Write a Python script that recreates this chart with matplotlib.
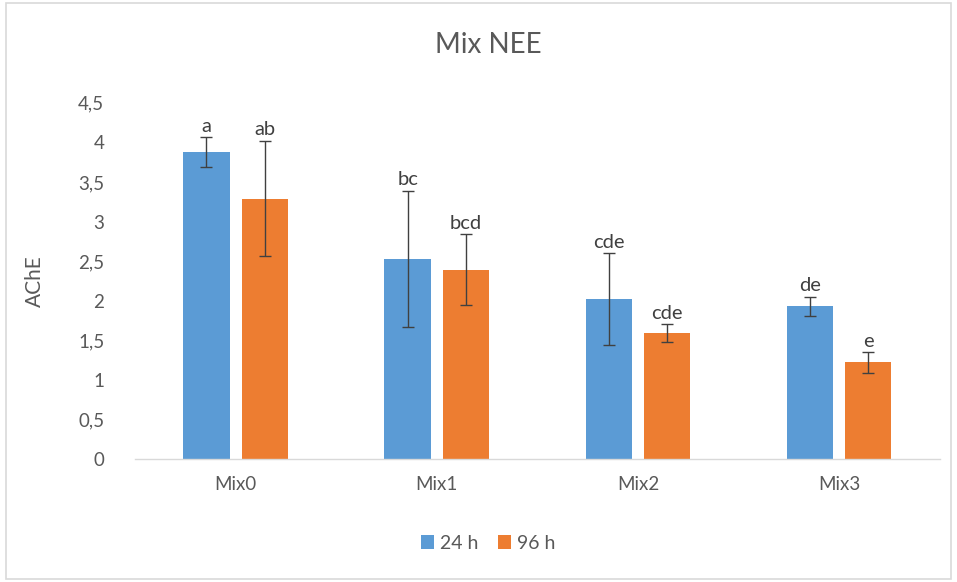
import matplotlib
matplotlib.use("Agg")
import matplotlib.pyplot as plt
from matplotlib.patches import Rectangle
import numpy as np

categories = ["Mix0", "Mix1", "Mix2", "Mix3"]
series_names = ["24 h", "96 h"]
vals_24 = [3.88, 2.53, 2.02, 1.93]
err_24 = [0.19, 0.86, 0.58, 0.12]
vals_96 = [3.29, 2.39, 1.59, 1.22]
err_96 = [0.73, 0.45, 0.11, 0.13]
letters_24 = ["a", "bc", "cde", "de"]
letters_96 = ["ab", "bcd", "cde", "e"]
yticks = [0, 0.5, 1, 1.5, 2, 2.5, 3, 3.5, 4, 4.5]
ytick_labels = ["0", "0,5", "1", "1,5", "2", "2,5", "3", "3,5", "4", "4,5"]

plt.rcParams['font.family'] = ['Lato', 'DejaVu Sans']
blue = "#5B9BD5"
orange = "#ED7D31"
txt = "#595959"

fig = plt.figure(figsize=(9.57, 5.82), dpi=100)
ax = fig.add_axes([0.141, 0.2113, 0.841, 0.612])

x = np.arange(len(categories))
off = 0.145
w = 0.23
ekw = dict(ecolor="#404040", elinewidth=1.0, capsize=4, capthick=1.0)
ax.bar(x - off, vals_24, w, color=blue, label=series_names[0], yerr=err_24, error_kw=ekw, zorder=2)
ax.bar(x + off, vals_96, w, color=orange, label=series_names[1], yerr=err_96, error_kw=ekw, zorder=2)

for i in range(len(categories)):
    ax.text(x[i] - off, vals_24[i] + err_24[i] + 0.03, letters_24[i], ha="center", va="bottom",
            fontsize=14.5, color="#404040", zorder=3)
    ax.text(x[i] + off, vals_96[i] + err_96[i] + 0.03, letters_96[i], ha="center", va="bottom",
            fontsize=14.5, color="#404040", zorder=3)

ax.set_xlim(-0.5, 3.5)
ax.set_ylim(0, 4.5)
ax.set_yticks(yticks)
ax.set_yticklabels(ytick_labels)
ax.set_xticks(x)
ax.set_xticklabels(categories)
ax.tick_params(axis="both", length=0, labelsize=13.5, colors=txt)
ax.tick_params(axis="x", pad=12)
ax.tick_params(axis="y", pad=22)
for s in ["top", "right", "left"]:
    ax.spines[s].set_visible(False)
ax.spines["bottom"].set_color("#D9D9D9")
ax.spines["bottom"].set_linewidth(1.0)
ax.set_ylabel("AChE", fontsize=15, color=txt, labelpad=24)

fig.text(0.51, 0.922, "Mix NEE", ha="center", va="center", fontsize=20, color=txt)

fig.legend(loc="center", bbox_to_anchor=(0.51, 0.067), ncol=2, frameon=False,
           fontsize=14, labelcolor=txt, handlelength=0.7, handleheight=0.7,
           handletextpad=0.3, columnspacing=1.0)

fig.patches.append(Rectangle((0.006, 0.006), 0.988, 0.988, transform=fig.transFigure,
                             fill=False, edgecolor="#D9D9D9", linewidth=1.2))

fig.savefig("out.png", dpi=100, facecolor="white")
